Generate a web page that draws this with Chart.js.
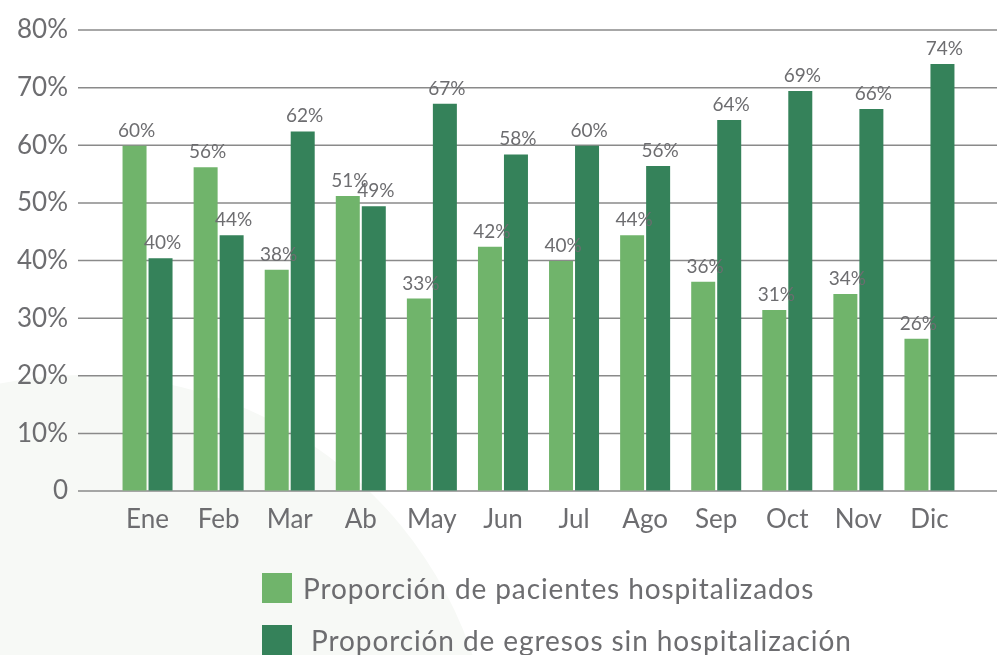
<!DOCTYPE html>
<html>
<head>
<meta charset="utf-8">
<script src="https://cdn.jsdelivr.net/npm/chart.js@4.4.0/dist/chart.umd.min.js"></script>
<style>
  html, body { margin: 0; padding: 0; background: #fff; }
  #wrap { position: relative; width: 997px; height: 655px; overflow: hidden; font-family: Lato, "DejaVu Sans", sans-serif; }
  #bg { position: absolute; left: -328px; top: 375px; width: 822px; height: 822px; border-radius: 50%; background: #f7f9f6; }
  #chart { position: absolute; left: 0; top: 0; }
  #legend { position: absolute; left: 262px; top: 573px; }
  .item { display: flex; align-items: center; height: 30px; margin-bottom: 22px; font-size: 28px; letter-spacing: 0.9px; color: #6d6d70; white-space: pre; }
  .box { width: 30px; height: 30px; margin-right: 11px; flex: none; }
</style>
</head>
<body>
<div id="wrap">
  <div id="bg"></div>
  <canvas id="chart" width="997" height="655"></canvas>
  <div id="legend"></div>
</div>
<script>
var months = ['Ene', 'Feb', 'Mar', 'Ab', 'May', 'Jun', 'Jul', 'Ago', 'Sep', 'Oct', 'Nov', 'Dic'];
var hospitalizados = [59.9, 56.2, 38.4, 51.2, 33.4, 42.4, 39.9, 44.4, 36.3, 31.4, 34.2, 26.4];
var sinHospitalizacion = [40.4, 44.4, 62.4, 49.4, 67.2, 58.4, 59.9, 56.4, 64.4, 69.4, 66.3, 74.1];
var seriesNames = ['Proporción de pacientes hospitalizados', ' Proporción de egresos sin hospitalización'];
var seriesColors = ['#70b46b', '#35825a'];
var yMax = 80;
var yStep = 10;

var textColor = '#6d6d70';

// horizontal grid lines, wider than the plot area like the original
var gridLines = {
    id: 'gridLines',
    beforeDatasetsDraw: function (chart) {
        var y = chart.scales.y, ctx = chart.ctx;
        ctx.save();
        ctx.strokeStyle = '#8a8a8a';
        ctx.lineWidth = 1.5;
        y.ticks.forEach(function (t) {
            var py = y.getPixelForValue(t.value);
            ctx.beginPath();
            ctx.moveTo(chart.chartArea.left - 34, py);
            ctx.lineTo(chart.width, py);
            ctx.stroke();
        });
        ctx.restore();
    }
};

var valueLabels = {
    id: 'valueLabels',
    afterDatasetsDraw: function (chart) {
        var ctx = chart.ctx;
        ctx.save();
        ctx.font = '19px Lato';
        ctx.fillStyle = textColor;
        ctx.textAlign = 'center';
        ctx.textBaseline = 'alphabetic';
        chart.data.datasets.forEach(function (ds, i) {
            chart.getDatasetMeta(i).data.forEach(function (bar, j) {
                ctx.fillText(Math.round(ds.data[j]) + '%', bar.x + 2, bar.y - 9);
            });
        });
        ctx.restore();
    }
};

var chart = new Chart(document.getElementById('chart'), {
    type: 'bar',
    data: {
        labels: months,
        datasets: [
            { label: seriesNames[0], data: hospitalizados, backgroundColor: seriesColors[0] },
            { label: seriesNames[1], data: sinHospitalizacion, backgroundColor: seriesColors[1] }
        ]
    },
    options: {
        responsive: false,
        animation: false,
        layout: { padding: { top: 30, right: 32, left: 0, bottom: 114 } },
        datasets: { bar: { categoryPercentage: 0.7316, barPercentage: 0.923 } },
        plugins: { legend: { display: false }, tooltip: { enabled: false } },
        scales: {
            x: {
                grid: { display: false },
                border: { display: false },
                ticks: { color: textColor, font: { family: 'Lato', size: 26 }, padding: 5 },
                afterFit: function (s) { s.height = 50; }
            },
            y: {
                min: 0,
                max: yMax,
                grid: { color: 'rgba(0,0,0,0)', drawTicks: true, tickLength: 34 },
                border: { display: false },
                ticks: {
                    stepSize: yStep,
                    color: textColor,
                    padding: 10,
                    font: { family: 'Lato', size: 26 },
                    callback: function (v) { return v === 0 ? '0' : v + '%'; }
                },
                afterFit: function (s) { s.width = 112; }
            }
        }
    },
    plugins: [gridLines, valueLabels]
});

// legend stacked in two rows, as in the original
var legend = document.getElementById('legend');
chart.data.datasets.forEach(function (ds) {
    var item = document.createElement('div');
    item.className = 'item';
    var box = document.createElement('span');
    box.className = 'box';
    box.style.background = ds.backgroundColor;
    var txt = document.createElement('span');
    txt.textContent = ds.label;
    item.appendChild(box);
    item.appendChild(txt);
    legend.appendChild(item);
});
</script>
</body>
</html>
